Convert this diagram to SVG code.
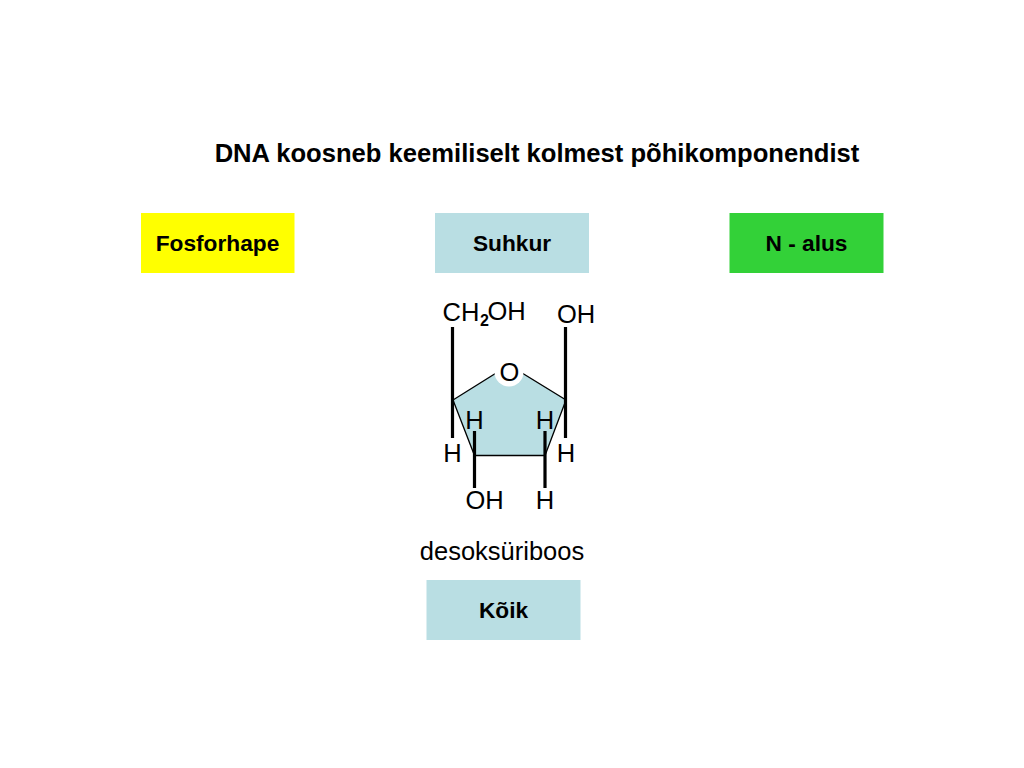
<svg xmlns="http://www.w3.org/2000/svg" width="1024" height="768" viewBox="0 0 1024 768">
<style>
text{font-family:"Liberation Sans",Arial,sans-serif;fill:#000}
.b{font-weight:bold;font-size:22.700px;text-anchor:middle}
.c{font-size:25.500px;text-anchor:middle}
.bond{stroke:#000;stroke-width:3.200;fill:none}
</style>
<rect width="1024" height="768" fill="#fff"/>
<text id="title" x="537" y="162" font-weight="bold" font-size="25.600px" text-anchor="middle">DNA koosneb keemiliselt kolmest põhikomponendist</text>
<g id="fosforhape"><rect x="141" y="213" width="153.500" height="60" fill="#ffff00"/><text class="b" x="217.500" y="251">Fosforhape</text></g>
<g id="suhkur"><rect x="435" y="213" width="154" height="60" fill="#b9dee3"/><text class="b" x="512" y="251">Suhkur</text></g>
<g id="n-alus"><rect x="729.500" y="213" width="154" height="60" fill="#33d138"/><text class="b" x="806.500" y="251">N - alus</text></g>
<g id="koik"><rect x="426.500" y="580" width="154" height="60" fill="#b9dee3"/><text class="b" x="503.500" y="618">Kõik</text></g>
<g id="ring"><path d="M453 400L509 365L566 400L545 455.500H474.500Z" fill="#b9dee3" stroke="#000" stroke-width="1.300"/><circle cx="509" cy="372" r="14.500" fill="#fff"/><text class="c" x="509.500" y="380.500">O</text></g>
<g id="connectors">
<path class="bond" d="M452.500 327V438M565.500 327V438M474.500 431V455M474.500 455V488M545 431V455M545 455V488"/>
</g>
<g id="labels">
<text class="c" x="461" y="320.500">CH</text><text x="484.500" y="326" font-size="16px" font-weight="bold" text-anchor="middle">2</text><text class="c" x="506.500" y="319.500">OH</text>
<text class="c" x="576" y="322.500">OH</text>
<text class="c" x="474.500" y="428.500">H</text><text class="c" x="545" y="428.500">H</text>
<text class="c" x="452.500" y="461.500">H</text><text class="c" x="566" y="461.500">H</text>
<text class="c" x="484.500" y="509">OH</text><text class="c" x="545" y="509">H</text>
<text id="caption" x="502" y="559.500" font-size="25.500px" text-anchor="middle">desoksüriboos</text>
</g>
</svg>
